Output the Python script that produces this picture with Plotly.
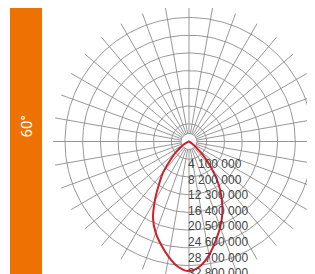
import numpy as np
import plotly.graph_objects as go

# ---- data ----
beam_label = "60°"
angles_deg = [-90, -85, -80, -75, -70, -65, -60, -55, -50, -45, -40, -35, -30, -25, -20, -15, -10, -5,
              0, 5, 10, 15, 20, 25, 30, 35, 40, 45, 50, 55, 60, 65, 70, 75, 80, 85, 90]
intensity_cd = [0, 0, 0, 0, 200_000, 600_000, 1_400_000, 2_600_000, 4_200_000, 6_200_000, 9_300_000,
                12_100_000, 15_800_000, 19_700_000, 22_500_000, 24_800_000, 27_100_000, 29_100_000,
                30_000_000, 29_000_000, 26_700_000, 23_800_000, 21_100_000, 18_300_000, 15_100_000,
                11_800_000, 8_100_000, 4_900_000, 2_300_000, 900_000, 300_000, 100_000, 0, 0, 0, 0, 0]
ring_values = [4_100_000, 8_200_000, 12_300_000, 16_400_000, 20_500_000, 24_600_000, 28_700_000]
scale_labels = ["4 100 000", "8 200 000", "12 300 000", "16 400 000",
                "20 500 000", "24 600 000", "28 700 000", "32 800 000"]
spoke_angles = list(range(0, 360, 10))

# ---- geometry / style ----
W, H = 315, 274
OFF = 8                      # page body margin offset
cx_px, cy_px = 189 - OFF, 141.5 - OFF
outer_px = 124
scale = outer_px / ring_values[-1]          # px per cd
hole_r = 8 / scale
spoke_end = 136 / scale

grid_color = "rgb(140,140,140)"

# rings
rx, ry = [], []
t = np.linspace(0, 2 * np.pi, 241)
for r in ring_values + [hole_r]:
    rx += list(r * np.cos(t)) + [None]
    ry += list(r * np.sin(t)) + [None]

# spokes
sx, sy = [], []
for a in spoke_angles:
    ar = np.deg2rad(a)
    sx += [hole_r * np.sin(ar), spoke_end * np.sin(ar), None]
    sy += [-hole_r * np.cos(ar), -spoke_end * np.cos(ar), None]

# curve (0 deg pointing down)
th = np.deg2rad(np.array(angles_deg, dtype=float))
I = np.array(intensity_cd, dtype=float)
lx = I * np.sin(th)
ly = -I * np.cos(th)

fig = go.Figure()
fig.add_trace(go.Scatter(x=rx, y=ry, mode="lines", line=dict(color=grid_color, width=0.9),
                         hoverinfo="skip", showlegend=False))
fig.add_trace(go.Scatter(x=sx, y=sy, mode="lines", line=dict(color=grid_color, width=0.9),
                         hoverinfo="skip", showlegend=False))
fig.add_trace(go.Scatter(x=lx, y=ly, mode="lines", line=dict(color="#d21f2b", width=2, shape="spline"),
                         showlegend=False))

fig.add_annotation(x=(186 - OFF - cx_px) / scale, y=(cy_px - (155 - OFF)) / scale, xref="x", yref="y",
                   xanchor="left", yanchor="top", align="left", showarrow=False,
                   text="<br>".join(scale_labels),
                   font=dict(family="Liberation Sans, Arial", size=12, color="#444444"))

# orange side bar with beam angle
fig.add_shape(type="rect", xref="paper", yref="paper", x0=(10 - OFF) / W, x1=(42 - OFF) / W,
              y0=0, y1=1.0, fillcolor="#ED7103", line=dict(width=0), layer="above")
fig.add_annotation(xref="paper", yref="paper", x=(26.5 - OFF) / W, y=1 - (127 - OFF) / H,
                   xanchor="center", yanchor="middle", text=beam_label,
                   textangle=-90, showarrow=False,
                   font=dict(family="Roboto, Arial", size=15, color="white"))

fig.update_xaxes(visible=False, range=[-cx_px / scale, (W - cx_px) / scale])
fig.update_yaxes(visible=False, range=[-(H - cy_px) / scale, cy_px / scale])
fig.update_layout(width=W, height=H, margin=dict(l=0, r=0, t=0, b=0),
                  paper_bgcolor="white", plot_bgcolor="white")

fig.write_html("out.html")
